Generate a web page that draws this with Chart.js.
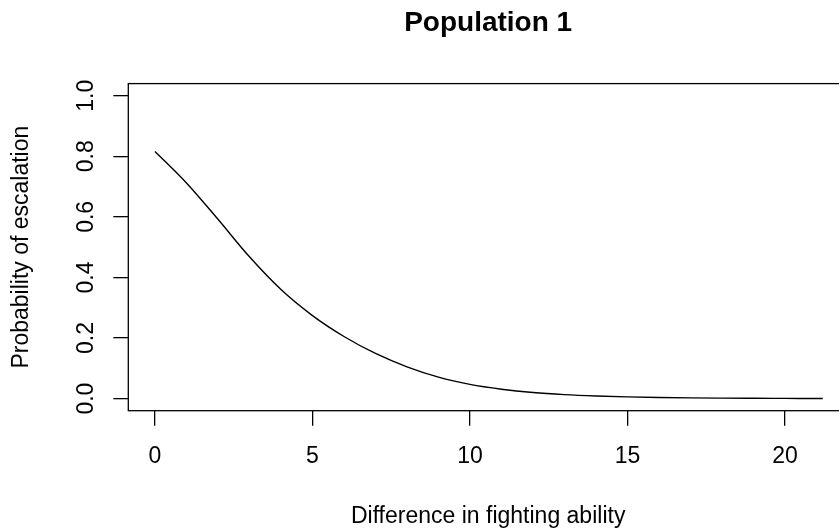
<!DOCTYPE html>
<html>
<head>
<meta charset="utf-8">
<script src="https://cdn.jsdelivr.net/npm/chart.js@4.4.0/dist/chart.umd.min.js"></script>
<style>
  html, body { margin: 0; padding: 0; background: #fff; overflow: hidden; }
  #wrap { width: 860px; height: 532px; }
</style>
</head>
<body>
<div id="wrap"><canvas id="myChart" width="860" height="532"></canvas></div>
<script>
// fitted escalation curve, Population 1
var diffAbility = [0, 1, 2, 3, 4, 5, 6, 7, 8, 9, 10, 11, 12, 13, 14, 15, 16, 17, 18, 19, 20, 21, 21.2]
var escalation = [0.816, 0.712, 0.592, 0.468, 0.360, 0.274, 0.205, 0.149, 0.105, 0.071, 0.047, 0.031, 0.020, 0.013, 0.0085, 0.0055, 0.0035, 0.0022, 0.0014, 0.0009, 0.0006, 0.0004, 0.0003]

var xTicks = [0, 5, 10, 15, 20]
var yTicks = [0, 0.2, 0.4, 0.6, 0.8, 1.0]
var yTickLabels = ['0.0', '0.2', '0.4', '0.6', '0.8', '1.0']

var font = '"Liberation Sans", Arial, Helvetica, sans-serif'

var points = []
for (var i = 0; i < diffAbility.length; i++) {
    points.push({x: diffAbility[i], y: escalation[i]})
}

// box round the plot region plus the vertical y tick labels
var boxPlugin = {
    id: 'boxPlugin',
    afterDraw: function(chart) {
        var ctx = chart.ctx
        var a = chart.chartArea
        ctx.save()
        ctx.strokeStyle = '#000'
        ctx.lineWidth = 1.3
        ctx.strokeRect(a.left, a.top, a.right - a.left, a.bottom - a.top)

        var y = chart.scales.y
        ctx.fillStyle = '#000'
        ctx.font = '23px ' + font
        ctx.textAlign = 'center'
        ctx.textBaseline = 'alphabetic'
        for (var i = 0; i < yTicks.length; i++) {
            ctx.save()
            ctx.translate(93, y.getPixelForValue(yTicks[i]))
            ctx.rotate(-Math.PI / 2)
            ctx.fillText(yTickLabels[i], 0, 0)
            ctx.restore()
        }
        ctx.restore()
    }
}

var chart = new Chart(document.getElementById('myChart').getContext('2d'), {
    type: 'line',
    data: {
        datasets: [{
            data: points,
            borderColor: '#000',
            borderWidth: 1.4,
            pointRadius: 0,
            fill: false,
            cubicInterpolationMode: 'monotone'
        }]
    },
    options: {
        responsive: false,
        animation: false,
        layout: { padding: { top: 0, right: 12, bottom: 0, left: 0 } },
        plugins: {
            legend: { display: false },
            tooltip: { enabled: false },
            title: {
                display: true,
                text: 'Population 1',
                fullSize: false,
                color: '#000',
                font: { family: font, size: 28, weight: 'bold' },
                padding: { top: 6, bottom: 44 }
            }
        },
        scales: {
            x: {
                type: 'linear',
                min: -0.847,
                max: 22.0,
                afterBuildTicks: function(scale) {
                    scale.ticks = xTicks.map(function(v) { return {value: v} })
                },
                afterFit: function(scale) { scale.height = 121.3 },
                grid: { drawOnChartArea: false, drawTicks: true, tickLength: 15, color: '#000', lineWidth: 1.3 },
                border: { display: false },
                ticks: {
                    color: '#000',
                    font: { family: font, size: 23 },
                    padding: 17,
                    maxRotation: 0,
                    callback: function(v) { return String(v) }
                },
                title: {
                    display: true,
                    text: 'Difference in fighting ability',
                    color: '#000',
                    font: { family: font, size: 23 },
                    padding: { top: 0, bottom: 2 }
                }
            },
            y: {
                type: 'linear',
                min: -0.04,
                max: 1.04,
                afterBuildTicks: function(scale) {
                    scale.ticks = yTicks.map(function(v) { return {value: v} })
                },
                afterFit: function(scale) { scale.width = 128.3 },
                grid: { drawOnChartArea: false, drawTicks: true, tickLength: 15, color: '#000', lineWidth: 1.3 },
                border: { display: false },
                ticks: { display: false },
                title: {
                    display: true,
                    text: 'Probability of escalation',
                    color: '#000',
                    font: { family: font, size: 23 },
                    padding: { top: 8, bottom: 0 }
                }
            }
        }
    },
    plugins: [boxPlugin]
})
</script>
</body>
</html>
